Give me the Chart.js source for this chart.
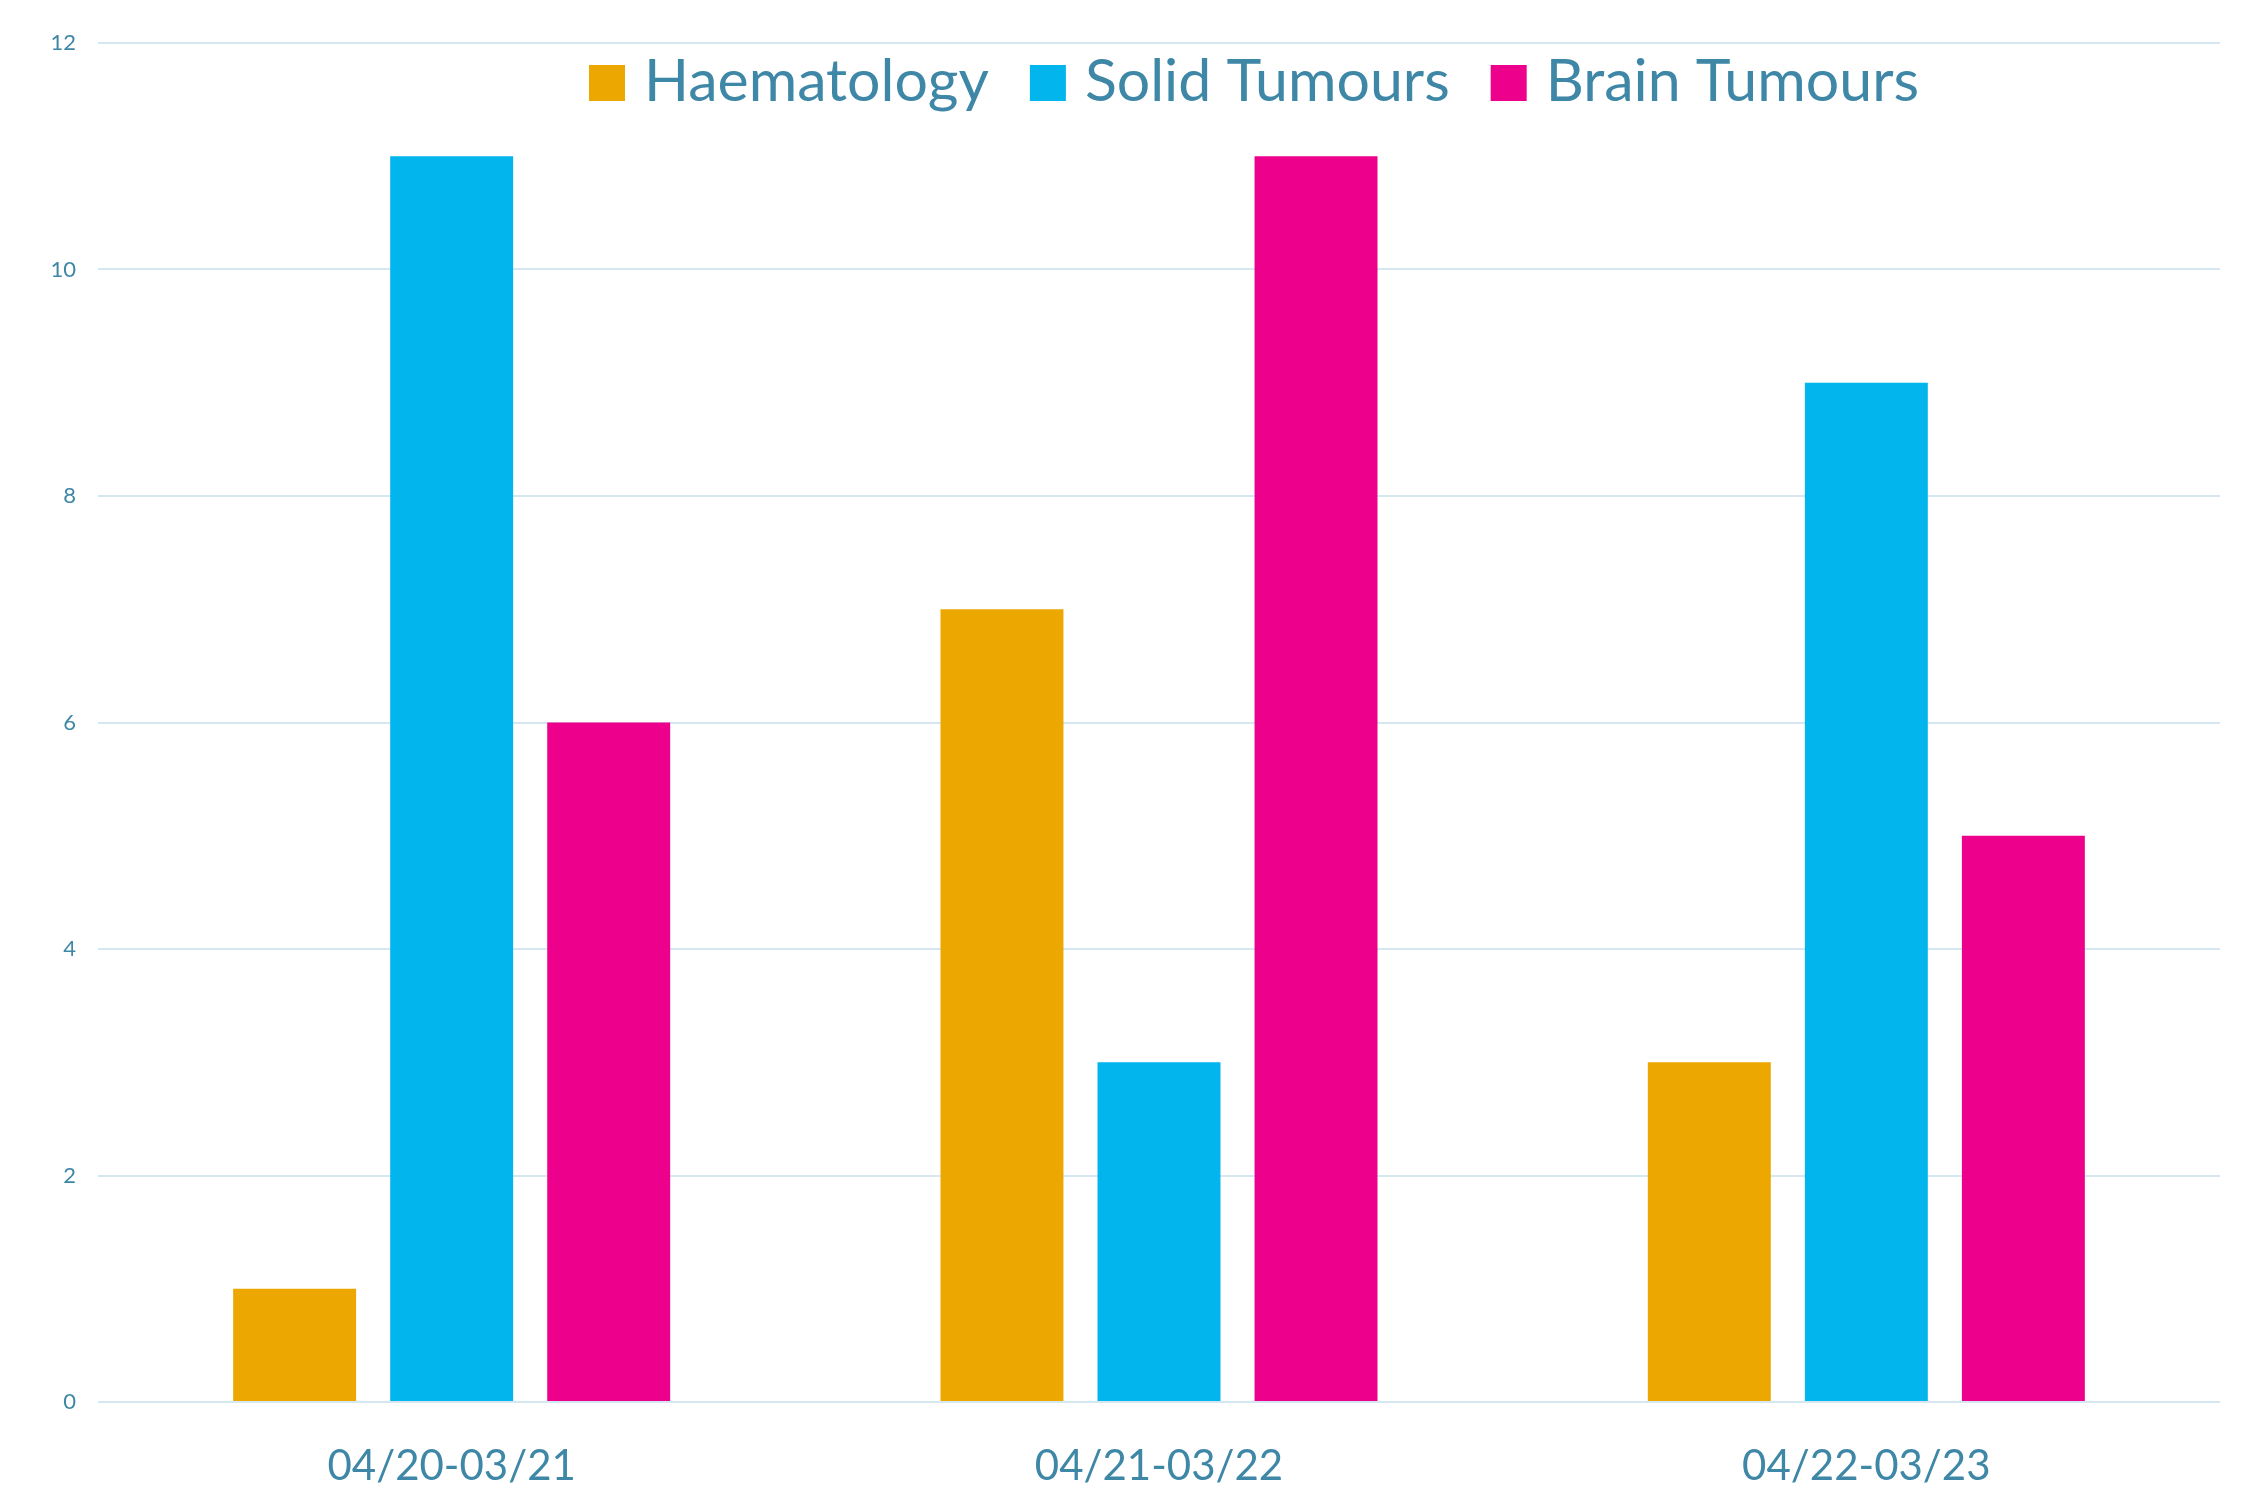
<!DOCTYPE html>
<html>
<head>
<meta charset="utf-8">
<script src="https://cdn.jsdelivr.net/npm/chart.js@4"></script>
<style>
  html, body { margin: 0; padding: 0; background: #fff; }
  #wrap { width: 2250px; height: 1494px; }
</style>
</head>
<body>
<div id="wrap"><canvas id="chart" width="2250" height="1494"></canvas></div>
<script>
// data
const categories = ['04/20-03/21', '04/21-03/22', '04/22-03/23'];
const haematology = [1, 7, 3];
const solidTumours = [11, 3, 9];
const brainTumours = [6, 11, 5];
const yMax = 12;
const yStep = 2;

const textColor = '#3f87a6';
const gridColor = '#d5e7f0';

// legend sits inside the plot, a bit right of centre
const topLegend = {
    id: 'topLegend',
    afterDraw(chart) {
        const ctx = chart.ctx;
        ctx.save();
        ctx.font = '59px Lato';
        ctx.textBaseline = 'alphabetic';
        let x = 589;
        chart.data.datasets.forEach(ds => {
            ctx.fillStyle = ds.backgroundColor;
            ctx.fillRect(x, 65, 36, 36);
            x += 55;
            ctx.fillStyle = textColor;
            ctx.fillText(ds.label, x, 101);
            x += ctx.measureText(ds.label).width + 41;
        });
        ctx.restore();
    }
};

new Chart(document.getElementById('chart').getContext('2d'), {
    type: 'bar',
    data: {
        labels: categories,
        datasets: [
            { label: 'Haematology', data: haematology, backgroundColor: '#eca700' },
            { label: 'Solid Tumours', data: solidTumours, backgroundColor: '#02b5ed' },
            { label: 'Brain Tumours', data: brainTumours, backgroundColor: '#ec008c' }
        ]
    },
    options: {
        responsive: false,
        animation: false,
        devicePixelRatio: 1,
        categoryPercentage: 0.666,
        barPercentage: 0.783,
        layout: { padding: { top: 43, right: 30, bottom: 0, left: 0 } },
        plugins: {
            legend: { display: false },
            tooltip: { enabled: false }
        },
        scales: {
            x: {
                grid: { display: false },
                border: { display: false },
                ticks: { color: textColor, font: { family: 'Lato', size: 42 }, padding: 31 },
                afterFit: s => { s.height = 92; }
            },
            y: {
                min: 0,
                max: yMax,
                grid: { color: gridColor, lineWidth: 2, drawTicks: false },
                border: { display: false },
                ticks: { stepSize: yStep, color: textColor, font: { family: 'Lato', size: 22 }, padding: 22 },
                afterFit: s => { s.width = 98; }
            }
        }
    },
    plugins: [topLegend]
});
</script>
</body>
</html>
